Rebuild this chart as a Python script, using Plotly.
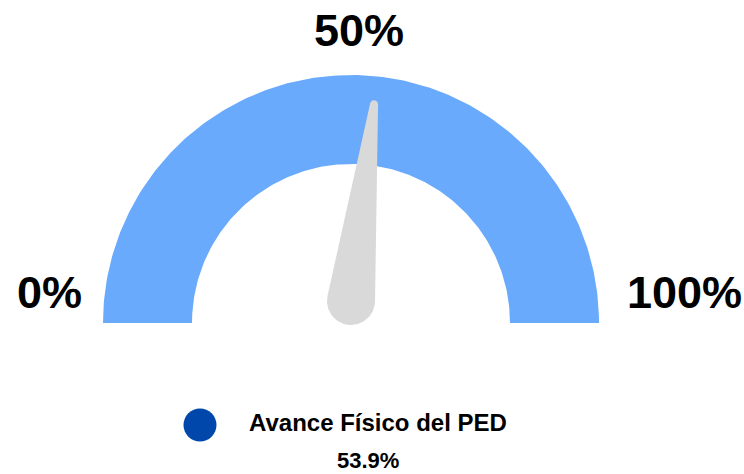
import numpy as np
import plotly.graph_objects as go

# ---- data ----
series_name = "Avance Físico del PED"
value = 53.9          # percent
gauge_min = 0
gauge_max = 100
tick_values = [0, 50, 100]
tick_labels = ["0%", "50%", "100%"]

# ---- style ----
ARC_COLOR = "#6AAAFC"
NEEDLE_COLOR = "#D9D9D9"
DOT_COLOR = "#0047AB"
FONT = "Liberation Sans, Arial, sans-serif"
PX = 248.0  # pixels per unit (outer radius)
R_OUT, R_IN = 1.0, 159 / PX

def val_angle(v):
    return np.pi * (1 - (v - gauge_min) / (gauge_max - gauge_min))

# arc band
th = np.linspace(val_angle(gauge_min), val_angle(gauge_max), 200)
ax = np.concatenate([R_OUT * np.cos(th), R_IN * np.cos(th[::-1])])
ay = np.concatenate([R_OUT * np.sin(th), R_IN * np.sin(th[::-1])])

# needle: hull of base circle and tip circle
a = val_angle(value) + np.radians(1.0)
u = np.array([np.cos(a), np.sin(a)])
c1 = np.array([0.0, 0.0]) + (22 / PX) * np.array([0, 1])
r1 = 24 / PX
c2 = np.array([0.0, 0.0]) + (220 / PX) * u
r2 = 4 / PX
d = np.linalg.norm(c2 - c1)
alpha = np.arctan2(*(c2 - c1)[::-1])
g = np.arccos((r1 - r2) / d)
t2 = np.linspace(alpha - g, alpha + g, 40)
t1 = np.linspace(alpha + g, alpha + 2 * np.pi - g, 80)
nx = np.concatenate([c2[0] + r2 * np.cos(t2), c1[0] + r1 * np.cos(t1)])
ny = np.concatenate([c2[1] + r2 * np.sin(t2), c1[1] + r1 * np.sin(t1)])

fig = go.Figure()
fig.add_trace(go.Scatter(x=ax, y=ay, fill="toself", fillcolor=ARC_COLOR,
                         line=dict(width=0, color=ARC_COLOR), mode="lines",
                         hoverinfo="skip", showlegend=False))
fig.add_trace(go.Scatter(x=nx, y=ny, fill="toself", fillcolor=NEEDLE_COLOR,
                         line=dict(width=0, color=NEEDLE_COLOR), mode="lines",
                         hoverinfo="skip", showlegend=False))

def px2x(p):
    return (p - 351) / PX

def py2y(p):
    return (323 - p) / PX

# tick labels
label_pos = {0: (49, 292), 50: (359, 30), 100: (684, 292)}
for v, lab in zip(tick_values, tick_labels):
    px_, py_ = label_pos[v]
    fig.add_annotation(x=px2x(px_), y=py2y(py_), text=f"<b>{lab}</b>", showarrow=False,
                       font=dict(family=FONT, size=45, color="#000000"),
                       xanchor="center", yanchor="middle")

# legend
fig.add_trace(go.Scatter(x=[px2x(200)], y=[py2y(425)], mode="markers",
                         marker=dict(size=33, color=DOT_COLOR, line=dict(width=0)),
                         hoverinfo="skip", showlegend=False))
fig.add_annotation(x=px2x(247), y=py2y(422), text=f"<b>{series_name}</b>", showarrow=False,
                   font=dict(family=FONT, size=24, color="#000000"),
                   xanchor="left", yanchor="middle")
fig.add_annotation(x=px2x(368), y=py2y(474), text=f"<b>{value:.1f}%</b>", showarrow=False,
                   font=dict(family=FONT, size=22, color="#000000"),
                   xanchor="center", yanchor="bottom", borderpad=0)

fig.update_layout(
    width=744, height=474,
    margin=dict(l=0, r=0, t=0, b=0),
    paper_bgcolor="white", plot_bgcolor="white",
    xaxis=dict(range=[px2x(0), px2x(744)], visible=False, fixedrange=True),
    yaxis=dict(range=[py2y(474), py2y(0)], visible=False, fixedrange=True),
)

fig.write_html("out.html", config={"displayModeBar": False},
               post_script="document.body.style.margin='0';document.body.style.overflow='hidden';")
